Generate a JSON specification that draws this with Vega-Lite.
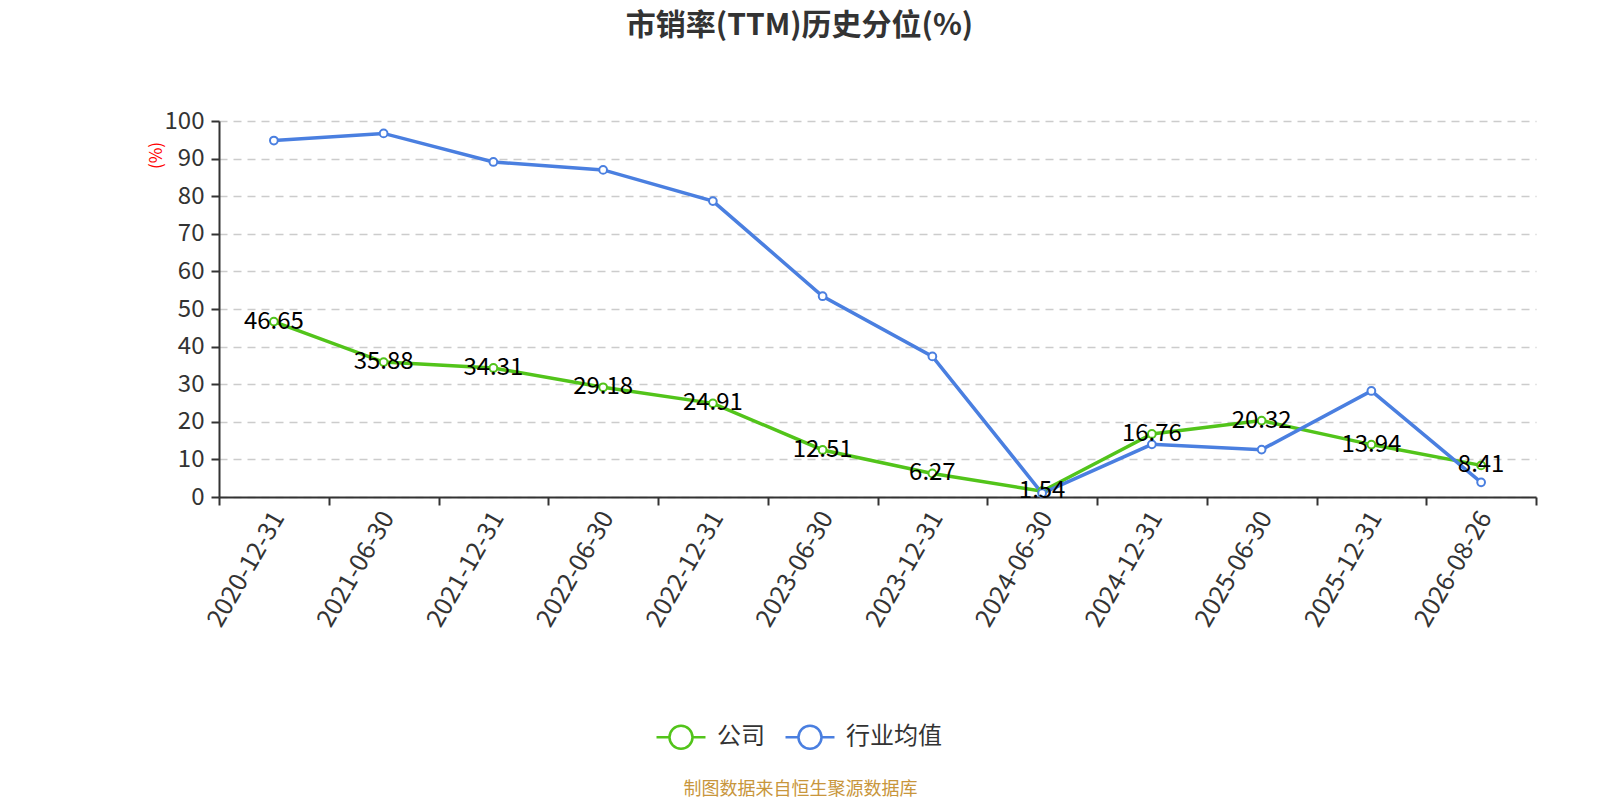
{
  "$schema": "https://vega.github.io/schema/vega-lite/v6.json",
  "autosize": {"type": "none"},
  "width": 1317,
  "height": 376,
  "padding": {"left": 219, "top": 121, "right": 64, "bottom": 303},
  "background": "white",
  "title": {
    "text": "市销率(TTM)历史分位(%)",
    "anchor": "middle",
    "frame": "group",
    "dx": -78,
    "offset": 68,
    "fontSize": 30,
    "fontWeight": "bold",
    "color": "#333333",
    "font": "Noto Sans CJK SC"
  },
  "data": {
    "values": [
      {"date": "2020-12-31", "series": "公司", "value": 46.65},
      {"date": "2021-06-30", "series": "公司", "value": 35.88},
      {"date": "2021-12-31", "series": "公司", "value": 34.31},
      {"date": "2022-06-30", "series": "公司", "value": 29.18},
      {"date": "2022-12-31", "series": "公司", "value": 24.91},
      {"date": "2023-06-30", "series": "公司", "value": 12.51},
      {"date": "2023-12-31", "series": "公司", "value": 6.27},
      {"date": "2024-06-30", "series": "公司", "value": 1.54},
      {"date": "2024-12-31", "series": "公司", "value": 16.76},
      {"date": "2025-06-30", "series": "公司", "value": 20.32},
      {"date": "2025-12-31", "series": "公司", "value": 13.94},
      {"date": "2026-08-26", "series": "公司", "value": 8.41},
      {"date": "2020-12-31", "series": "行业均值", "value": 94.8},
      {"date": "2021-06-30", "series": "行业均值", "value": 96.7},
      {"date": "2021-12-31", "series": "行业均值", "value": 89.1},
      {"date": "2022-06-30", "series": "行业均值", "value": 87.0},
      {"date": "2022-12-31", "series": "行业均值", "value": 78.7},
      {"date": "2023-06-30", "series": "行业均值", "value": 53.4},
      {"date": "2023-12-31", "series": "行业均值", "value": 37.4},
      {"date": "2024-06-30", "series": "行业均值", "value": 1.0},
      {"date": "2024-12-31", "series": "行业均值", "value": 14.0},
      {"date": "2025-06-30", "series": "行业均值", "value": 12.6},
      {"date": "2025-12-31", "series": "行业均值", "value": 28.2},
      {"date": "2026-08-26", "series": "行业均值", "value": 3.9}
    ]
  },
  "encoding": {
    "x": {
      "field": "date",
      "type": "ordinal",
      "scale": {"type": "band", "paddingInner": 0, "paddingOuter": 0},
      "axis": {
        "title": "制图数据来自恒生聚源数据库",
        "titleColor": "#c8963c",
        "titleFontSize": 18,
        "titleFontWeight": "normal",
        "titleFont": "Noto Sans CJK SC",
        "titleX": 581,
        "titleY": 292,
        "titleAnchor": "middle",
        "titleBaseline": "middle",
        "labelAngle": -60,
        "labelAlign": "right",
        "labelBaseline": "middle",
        "labelFontSize": 25,
        "labelColor": "#333333",
        "labelFont": "Noto Sans CJK SC",
        "labelPadding": 8,
        "labelOffset": 4,
        "tickBand": "extent",
        "tickSize": 8,
        "tickColor": "#333333",
        "tickWidth": 2,
        "domainColor": "#333333",
        "domainWidth": 2,
        "grid": false
      }
    },
    "y": {
      "field": "value",
      "type": "quantitative",
      "scale": {"domain": [0, 100], "nice": false},
      "axis": {
        "values": [0, 10, 20, 30, 40, 50, 60, 70, 80, 90, 100],
        "title": "(%)",
        "titleColor": "#ff0000",
        "titleFontSize": 17,
        "titleFontWeight": "normal",
        "titleFont": "Noto Sans CJK SC",
        "titleX": -63,
        "titleY": 34,
        "titleAngle": -90,
        "titleAlign": "center",
        "titleBaseline": "middle",
        "labelFontSize": 24,
        "labelColor": "#333333",
        "labelFont": "Noto Sans CJK SC",
        "labelPadding": 7,
        "tickSize": 8,
        "tickColor": "#333333",
        "tickWidth": 2,
        "domainColor": "#333333",
        "domainWidth": 2,
        "gridColor": "#cccccc",
        "gridDash": [8, 6],
        "gridWidth": 1.5
      }
    },
    "color": {
      "field": "series",
      "type": "nominal",
      "scale": {"domain": ["公司", "行业均值"], "range": ["#52c41a", "#4a7fe0"]},
      "legend": {
        "title": null,
        "orient": "none",
        "direction": "horizontal",
        "legendX": 436,
        "legendY": 590,
        "symbolType": "M-1,0L-0.47,0M0.47,0L1,0M0.47,0A0.47,0.47,0,1,1,-0.47,0A0.47,0.47,0,1,1,0.47,0Z",
        "symbolSize": 2400,
        "symbolStrokeWidth": 2.5,
        "symbolFillColor": "white",
        "labelFontSize": 24,
        "labelColor": "#333333",
        "labelFont": "Noto Sans CJK SC",
        "labelOffset": 10,
        "columnPadding": 15
      }
    }
  },
  "layer": [
    {
      "mark": {"type": "line", "strokeWidth": 3.5}
    },
    {
      "mark": {"type": "point", "filled": false, "fill": "white", "fillOpacity": 1, "size": 60, "strokeWidth": 2, "opacity": 1}
    },
    {
      "transform": [{"filter": "datum.series === '公司'"}],
      "mark": {"type": "text", "fontSize": 24, "font": "Noto Sans CJK SC", "baseline": "middle", "align": "center"},
      "encoding": {
        "text": {"field": "value", "type": "quantitative", "format": ".2f"},
        "color": {"value": "black"}
      }
    }
  ],
  "config": {
    "view": {"stroke": null}
  }
}
